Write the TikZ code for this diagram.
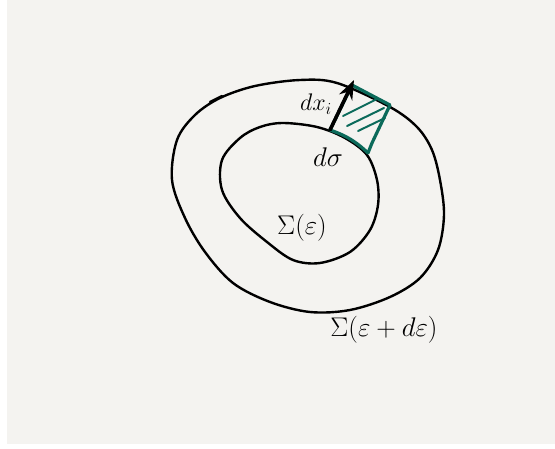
\RequirePackage{fix-cm}
\documentclass[tikz,border=0pt]{standalone}
\usepackage{amsmath}
\usepackage{amssymb}
\usetikzlibrary{arrows.meta}
\definecolor{paper}{HTML}{F4F3F0}
\definecolor{patchgreen}{HTML}{0B6A5A}

\begin{document}
\begin{tikzpicture}[x=1pt, y=1pt, >=Stealth,
  curve/.style={draw=black, line width=2.4pt, line cap=round, line join=round},
  lbl/.style={inner sep=0pt, font=\fontsize{27}{30}\selectfont},
  patch/.style={draw=patchgreen, line width=3.2pt, line join=round, line cap=round},
  hatch/.style={draw=patchgreen, line width=2pt, line cap=round}]
  % page
  \fill[white] (0,0) rectangle (555,448);
  \fill[paper] (7,4) rectangle (555,448);
  \useasboundingbox (0,0) rectangle (555,448);

  % energy shells
  \draw[curve] plot[smooth cycle, tension=0.55] coordinates {
    (300,368) (337,365) (390,341) (417,321) (432,298) (440,268)
    (444,233) (438,198) (420,170) (390,151) (350,138) (310,136)
    (270,146) (233,165) (205,196) (185,230) (172,268) (177,308)
    (195,333) (220,350) (255,362)};
  \draw[curve] (210,346) -- (222,352);
  \draw[curve] plot[smooth cycle, tension=0.55] coordinates {
    (283,325) (317,321) (345,310) (367,293) (377,268) (378,243)
    (370,218) (350,196) (320,185) (293,188) (267,206) (240,230)
    (222,258) (222,288) (240,310) (260,321)};

  % surface element
  \coordinate (a) at (330,318);
  \coordinate (b) at (352,363);
  \coordinate (c) at (390,343);
  \coordinate (d) at (372,305);
  \coordinate (e) at (368,295);
  \draw[patch] (a) -- (b) -- (c) -- (d) -- (e);
  \draw[patch] (a) to[bend left=12] (e);
  \draw[hatch] (343,332) -- (377,349);
  \draw[hatch] (347,322) -- (384,340);
  \draw[hatch] (358,317) -- (385,330);

  \coordinate (tip) at (354,368);
  \draw[->, line width=3.6pt, line cap=round] (a) -- (tip);

  \node[lbl, font=\fontsize{24}{26}\selectfont] (dx) at (316,344) {$dx_i$};
  \node[lbl] (dsigma) at (328,291) {$d\sigma$};
  \node[lbl] (inner) at (302,220) {$\Sigma(\varepsilon)$};
  \node[lbl] (outer) at (384,118) {$\Sigma(\varepsilon+d\varepsilon)$};
\end{tikzpicture}
\end{document}
